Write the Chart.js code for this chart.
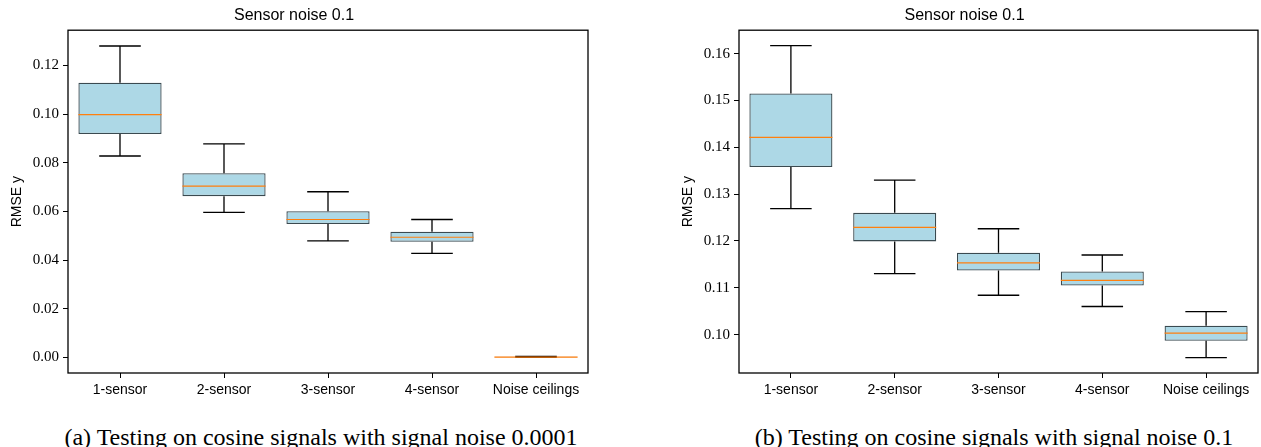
<!DOCTYPE html>
<html>
<head>
<meta charset="utf-8">
<script src="https://cdn.jsdelivr.net/npm/chart.js@4"></script>
<style>
  body { margin: 0; background: #fff; width: 1261px; height: 447px; position: relative; overflow: hidden; }
  canvas { position: absolute; top: 0; }
  .cap { position: absolute; top: 423px; width: 640px; font-family: 'Liberation Serif', serif; font-size: 24px; line-height: 28px; text-align: center; white-space: nowrap; color: #000; }
</style>
</head>
<body>
<canvas id="left" width="610" height="400" style="left:0"></canvas>
<canvas id="right" width="590" height="400" style="left:671px"></canvas>
<div class="cap" style="left:1px">(a) Testing on cosine signals with signal noise 0.0001</div>
<div class="cap" style="left:674px">(b) Testing on cosine signals with signal noise 0.1</div>
<script>
const categories = ['1-sensor', '2-sensor', '3-sensor', '4-sensor', 'Noise ceilings'];

// (a) signal noise 0.0001
const aLow  = [0.0828, 0.0596, 0.0479, 0.0428, 0.0000];
const aQ1   = [0.0918, 0.0663, 0.0548, 0.0475, 0.00005];
const aMed  = [0.0998, 0.0704, 0.0567, 0.0494, 0.0001];
const aQ3   = [0.1129, 0.0757, 0.0601, 0.0517, 0.0003];
const aHigh = [0.1280, 0.0878, 0.0681, 0.0567, 0.0004];
const aTicks = [0.00, 0.02, 0.04, 0.06, 0.08, 0.10, 0.12];
const aRange = [-0.0064, 0.1345];

// (b) signal noise 0.1
const bLow  = [0.1269, 0.1130, 0.1084, 0.1060, 0.0951];
const bQ1   = [0.1358, 0.1199, 0.1137, 0.1105, 0.0987];
const bMed  = [0.1421, 0.1229, 0.1153, 0.1116, 0.1003];
const bQ3   = [0.1515, 0.1260, 0.1175, 0.1135, 0.1019];
const bHigh = [0.1617, 0.1330, 0.1226, 0.1170, 0.1049];
const bTicks = [0.10, 0.11, 0.12, 0.13, 0.14, 0.15, 0.16];
const bRange = [0.0918, 0.1650];

function boxChart(canvas, low, q1, med, q3, high, ticks, range) {
    // whiskers, caps, medians and the frame, drawn on top of the floating bars
    const boxParts = {
        id: 'boxParts',
        afterDatasetsDraw(chart) {
            const ctx = chart.ctx;
            const y = chart.scales.y;
            const bars = chart.getDatasetMeta(0).data;
            ctx.save();
            bars.forEach((bar, i) => {
                const half = bar.width / 2, cap = bar.width / 4;
                const pLo = y.getPixelForValue(low[i]), pQ1 = y.getPixelForValue(q1[i]);
                const pQ3 = y.getPixelForValue(q3[i]), pHi = y.getPixelForValue(high[i]);
                const pMed = y.getPixelForValue(med[i]);
                ctx.strokeStyle = '#000';
                ctx.lineWidth = 1.3;
                ctx.beginPath();
                ctx.moveTo(bar.x, pQ3); ctx.lineTo(bar.x, pHi);
                ctx.moveTo(bar.x - cap, pHi); ctx.lineTo(bar.x + cap, pHi);
                ctx.moveTo(bar.x, pQ1); ctx.lineTo(bar.x, pLo);
                ctx.moveTo(bar.x - cap, pLo); ctx.lineTo(bar.x + cap, pLo);
                ctx.stroke();
                ctx.strokeStyle = '#ff7f0e';
                ctx.lineWidth = 1.2;
                ctx.beginPath();
                ctx.moveTo(bar.x - half, pMed); ctx.lineTo(bar.x + half, pMed);
                ctx.stroke();
            });
            const a = chart.chartArea;
            ctx.strokeStyle = '#000';
            ctx.lineWidth = 1.3;
            ctx.strokeRect(a.left, a.top, a.right - a.left, a.bottom - a.top);
            ctx.restore();
        }
    };

    return new Chart(canvas, {
        type: 'bar',
        data: {
            labels: categories,
            datasets: [{
                data: q1.map((v, i) => [v, q3[i]]),
                backgroundColor: '#add8e6',
                borderColor: '#3a4a50',
                borderWidth: 1.3,
                borderSkipped: false,
                barPercentage: 0.8,
                categoryPercentage: 1.0
            }]
        },
        options: {
            responsive: false,
            animation: false,
            devicePixelRatio: 1,
            layout: { padding: { left: 0, right: canvas.width - (canvas.id === 'left' ? 588 : 587), top: 0, bottom: 0 } },
            plugins: {
                legend: { display: false },
                tooltip: { enabled: false },
                title: {
                    display: true,
                    text: 'Sensor noise 0.1',
                    color: '#000',
                    font: { family: 'Liberation Sans', size: 16, weight: 'normal' },
                    padding: { top: 6, bottom: 5 }
                }
            },
            scales: {
                x: {
                    grid: { offset: false, drawOnChartArea: false, tickLength: 5, tickColor: '#000' },
                    border: { display: false },
                    ticks: { color: '#000', font: { family: 'Liberation Sans', size: 14 }, padding: 4, maxRotation: 0, autoSkip: false },
                    afterFit: s => { s.height = 27; }
                },
                y: {
                    min: range[0],
                    max: range[1],
                    afterBuildTicks: s => { s.ticks = ticks.map(v => ({ value: v })); },
                    afterFit: s => { s.width = 68; },
                    grid: { drawOnChartArea: false, tickLength: 5, tickColor: '#000' },
                    border: { display: false },
                    ticks: { color: '#000', font: { family: 'Liberation Serif', size: 15 }, padding: 4, callback: v => v.toFixed(2) },
                    title: {
                        display: true,
                        text: 'RMSE y',
                        color: '#000',
                        font: { family: 'Liberation Sans', size: 14 },
                        padding: { top: 9, bottom: 0 }
                    }
                }
            }
        },
        plugins: [boxParts]
    });
}

boxChart(document.getElementById('left'), aLow, aQ1, aMed, aQ3, aHigh, aTicks, aRange);
boxChart(document.getElementById('right'), bLow, bQ1, bMed, bQ3, bHigh, bTicks, bRange);
</script>
</body>
</html>
